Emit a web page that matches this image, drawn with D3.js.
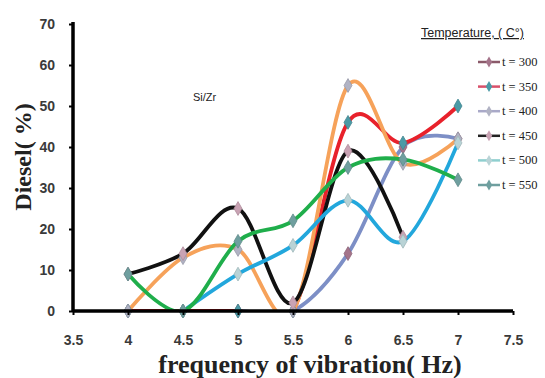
<!DOCTYPE html>
<html>
<head>
<meta charset="utf-8">
<script src="https://cdn.jsdelivr.net/npm/d3@7"></script>
<style>
  body { margin: 0; background: #fff; }
  svg { display: block; }
</style>
</head>
<body>
<div id="chart"></div>
<script>
// 频率 (Hz)
const freqs = [4, 4.5, 5, 5.5, 6, 6.5, 7];
const xTicks = [3.5, 4, 4.5, 5, 5.5, 6, 6.5, 7, 7.5];
const yTicks = [0, 10, 20, 30, 40, 50, 60, 70];

const temps = ["t = 300", "t = 350", "t = 400", "t = 450", "t = 500", "t = 550"];
const t300 = [0, 0, 0, 0, 14, 40, 42];
const t350 = [0, 0, 0, 0, 46, 41, 50];
const t400 = [0, 13, 15, 0, 55, 36, 42];
const t450 = [9, 14, 25, 2, 39, 18, null];
const t500 = [null, 0, 9, 16, 27, 17, 41];
const t550 = [9, 0, 17, 22, 35, 37, 32];

const seriesValues = [t300, t350, t400, t450, t500, t550];
const lineColors = ["#7d8fc6", "#e8212b", "#f6a25a", "#111111", "#22a7dc", "#1fae4b"];
const markerColors = ["#a4748a", "#4b9aa6", "#b1b3c4", "#c9a3b4", "#b9d3d6", "#6f9f9f"];
const legendLineColors = ["#8b5a6a", "#d9506a", "#a9a9c8", "#222222", "#8fcfcf", "#6f9f9f"];

const width = 545, height = 378;
const x = d3.scaleLinear().domain([3.5, 7.5]).range([73, 513]);
const y = d3.scaleLinear().domain([0, 70]).range([311, 24]);

const svg = d3.select("#chart").append("svg")
  .attr("width", width).attr("height", height);

svg.append("defs").append("clipPath").attr("id", "plot")
  .append("rect").attr("x", 73).attr("y", 0).attr("width", 460).attr("height", 311);

// 曲线 (Excel 平滑线)
const line = d3.line()
  .defined(d => d[1] != null)
  .x(d => x(d[0])).y(d => y(d[1]))
  .curve(d3.curveCardinal.tension(0));

const lines = svg.append("g").attr("clip-path", "url(#plot)");
seriesValues.forEach((vals, i) => {
  const pts = freqs.map((f, j) => [f, vals[j]]);
  lines.append("path")
    .datum(pts.filter(p => p[1] != null))
    .attr("d", line)
    .attr("fill", "none")
    .attr("stroke", lineColors[i])
    .attr("stroke-width", 3.8)
    .attr("stroke-linejoin", "round");
});

const diamond = d3.symbol().type(d3.symbolDiamond).size(55);
seriesValues.forEach((vals, i) => {
  svg.append("g").selectAll("path")
    .data(freqs.map((f, j) => [f, vals[j]]).filter(p => p[1] != null))
    .join("path")
    .attr("d", diamond)
    .attr("transform", d => `translate(${x(d[0])},${y(d[1])})`)
    .attr("fill", markerColors[i])
    .attr("stroke", d3.color(markerColors[i]).darker(0.4))
    .attr("stroke-width", 0.8);
});

// 坐标轴
const yAxis = svg.append("g").attr("transform", "translate(73,0)")
  .call(d3.axisLeft(y).tickValues(yTicks).tickSize(4).tickPadding(14));
const xAxis = svg.append("g").attr("transform", "translate(0,311)")
  .call(d3.axisBottom(x).tickValues(xTicks).tickSize(4).tickPadding(20)
    .tickFormat(d => d));
[yAxis, xAxis].forEach(a => {
  a.select(".domain").attr("stroke", "#000").attr("stroke-width", 3.5);
  a.selectAll(".tick line").attr("stroke", "#000").attr("stroke-width", 2);
  a.selectAll(".tick text")
    .style("font-family", "'Liberation Sans', Arial, sans-serif")
    .style("font-weight", "bold").style("font-size", "14px")
    .attr("fill", "#3a3a3a");
});
xAxis.select(".domain").attr("d", "M73,0H513");
yAxis.select(".domain").attr("d", "M0,22V311");

svg.append("text")
  .attr("transform", "translate(31,157) rotate(-90)")
  .attr("text-anchor", "middle")
  .style("font-family", "'Liberation Serif', 'Times New Roman', serif")
  .style("font-weight", "bold").style("font-size", "24px")
  .attr("fill", "#222")
  .text("Diesel( %)");

svg.append("text")
  .attr("x", 310).attr("y", 373)
  .attr("text-anchor", "middle")
  .style("font-family", "'Liberation Serif', 'Times New Roman', serif")
  .style("font-weight", "bold").style("font-size", "26px")
  .attr("fill", "#222")
  .text("frequency of vibration( Hz)");

svg.append("text")
  .attr("x", 193).attr("y", 101)
  .style("font-family", "'Liberation Sans', Arial, sans-serif")
  .style("font-size", "11px")
  .attr("fill", "#222")
  .text("Si/Zr");

// 图例
svg.append("text")
  .attr("x", 421).attr("y", 37)
  .style("font-family", "'Liberation Sans', Arial, sans-serif")
  .style("font-size", "12.5px")
  .style("text-decoration", "underline")
  .attr("fill", "#222")
  .text("Temperature, ( C°)");

const legend = svg.append("g").selectAll("g")
  .data(temps)
  .join("g")
  .attr("transform", (d, i) => `translate(478,${62 + i * 24.6})`);
legend.append("line")
  .attr("x1", 0).attr("x2", 22)
  .attr("stroke", (d, i) => legendLineColors[i])
  .attr("stroke-width", 2.5);
legend.append("path")
  .attr("d", d3.symbol().type(d3.symbolDiamond).size(35))
  .attr("transform", "translate(11,0)")
  .attr("fill", (d, i) => markerColors[i]);
legend.append("text")
  .attr("x", 24).attr("y", 4)
  .style("font-family", "'Liberation Serif', 'Times New Roman', serif")
  .style("font-size", "12.5px")
  .attr("fill", "#222")
  .text(d => d);
</script>
</body>
</html>
